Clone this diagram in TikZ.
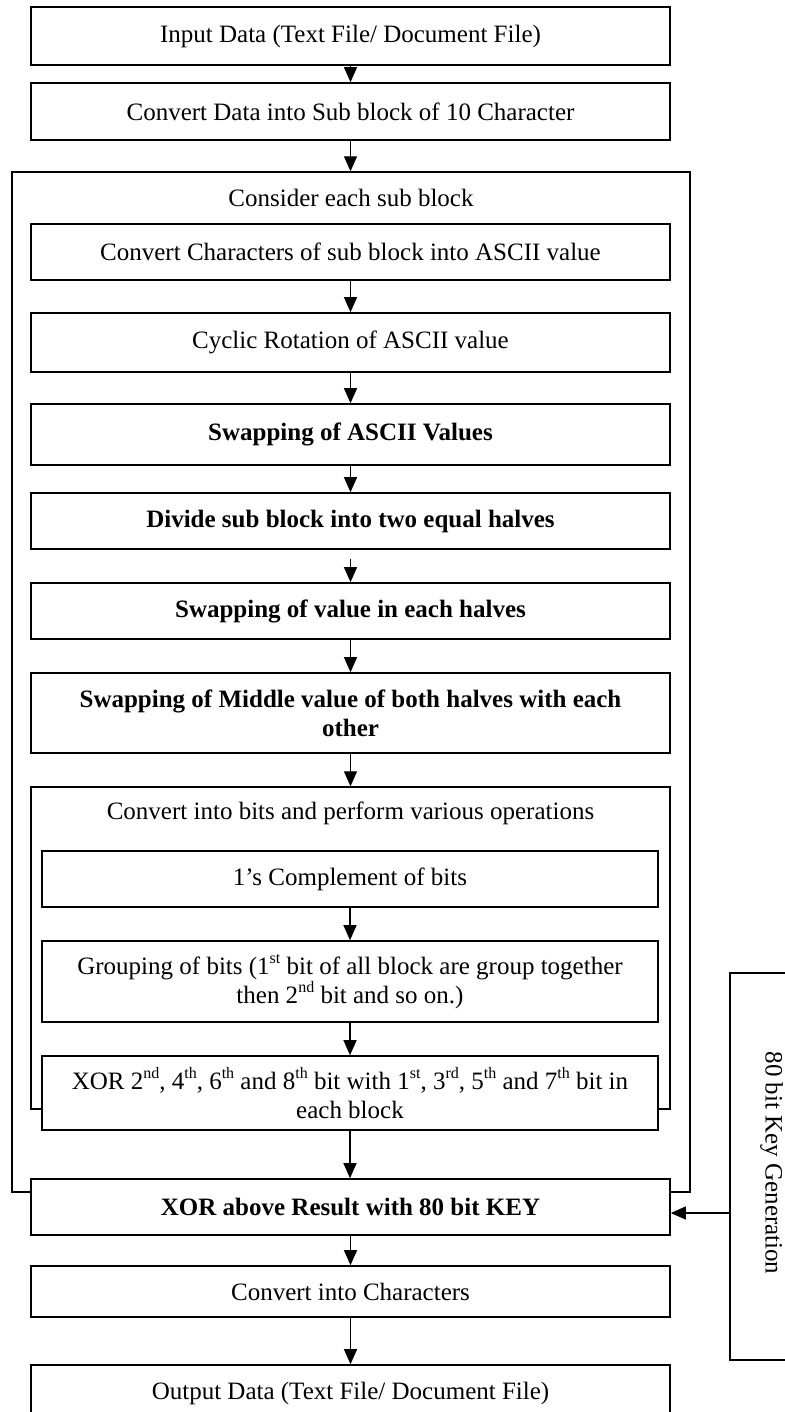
\documentclass[tikz,border=0pt]{standalone}
\usepackage{fontspec}
\setmainfont{Liberation Serif}
\usetikzlibrary{arrows.meta,calc}
\newcommand\supx[1]{\raisebox{0.42em}{\fontsize{16}{16}\selectfont #1}}
\begin{document}
\begin{tikzpicture}[x=1pt,y=-1pt,
  every node/.style={font=\fontsize{25}{29}\selectfont},
  box/.style={draw, line width=1.6pt, fill=white, minimum width=639pt, align=center, inner sep=0pt},
  ibox/.style={box, minimum width=616pt},
  frame/.style={draw, line width=1.4pt, inner sep=0pt},
  lbl/.style={inner sep=0pt, align=center},
  arr/.style={line width=1.2pt, -{Triangle[length=15pt,width=13pt]}}
]
\useasboundingbox (0,0) rectangle (784,1412);
\fill[white] (0,0) rectangle (784,1412);

% outer frames
\node[frame, minimum width=678pt, minimum height=1020pt] (outer) at (351,682) {};
\node[lbl] (consider) at (351,198) {Consider each sub block};
\node[frame, fill=white, minimum width=639pt, minimum height=322pt] (outerb) at (350.5,948) {};
\node[lbl] (bits) at (350.5,813) {Convert into bits and perform various operations};

% main boxes
\node[box, minimum height=58pt] (in) at (350.5,36) {Input Data (Text File/ Document File)};
\node[box, minimum height=57pt] (cd) at (350.5,111.5) {Convert Data into Sub block of 10 Character};
\node[box, minimum height=56pt] (cc) at (350.5,252) {Convert Characters of sub block into ASCII value};
\node[box, minimum height=59pt] (cyc) at (350.5,342.5) {Cyclic Rotation of ASCII value};
\node[box, minimum height=61pt] (sasc) at (350.5,434.5) {\textbf{Swapping of ASCII Values}};
\node[box, minimum height=56pt] (div) at (350.5,521) {\textbf{Divide sub block into two equal halves}};
\node[box, minimum height=56pt] (sval) at (350.5,611) {\textbf{Swapping of value in each halves}};
\node[box, minimum height=80pt] (mid) at (350.5,713) {\textbf{Swapping of Middle value of both halves with each}\\\textbf{other}};
\node[ibox, minimum height=56pt] (comp) at (350,879) {1’s Complement of bits};
\node[ibox, minimum height=81pt] (grp) at (350,981.5) {Grouping of bits (1\supx{st} bit of all block are group together\\then 2\supx{nd} bit and so on.)};
\node[ibox, minimum height=74pt] (xorb) at (350,1093) {XOR 2\supx{nd}, 4\supx{th}, 6\supx{th} and 8\supx{th} bit with 1\supx{st}, 3\supx{rd}, 5\supx{th} and 7\supx{th} bit in\\each block};
\node[box, minimum height=56pt] (key) at (350.5,1207) {\textbf{XOR above Result with 80 bit KEY}};
\node[box, minimum height=51pt] (chars) at (350.5,1291.5) {Convert into Characters};
\node[box, minimum height=56pt] (out) at (350.5,1393) {Output Data (Text File/ Document File)};

% key generation
\node[frame, line width=1.5pt, minimum width=64pt, minimum height=387pt] (kg) at (762,1166.5) {};
\node[lbl, rotate=-90] (kgt) at (771.5,1163) {80 bit Key Generation};

% connectors
\draw[arr] (in.south) -- (cd.north);
\draw[arr] (cd.south) -- (cd.south |- outer.north);
\draw[arr] (cc.south) -- (cyc.north);
\draw[arr] (cyc.south) -- (sasc.north);
\draw[arr] (sasc.south) -- (div.north);
\draw[arr] ([yshift=-9pt]div.south) -- (sval.north);
\draw[arr] (sval.south) -- (mid.north);
\draw[arr] (mid.south) -- (outerb.north);
\draw[arr] (comp.south) -- (grp.north);
\draw[arr] (grp.south) -- (xorb.north);
\draw[arr] (xorb.south) -- (xorb.south |- key.north);
\draw[arr] (key.south) -- (chars.north);
\draw[arr] (chars.south) -- (out.north);
\draw[arr] ([yshift=-6pt]kg.west |- key.east) -- ([yshift=-6pt]key.east);
\end{tikzpicture}
\end{document}
